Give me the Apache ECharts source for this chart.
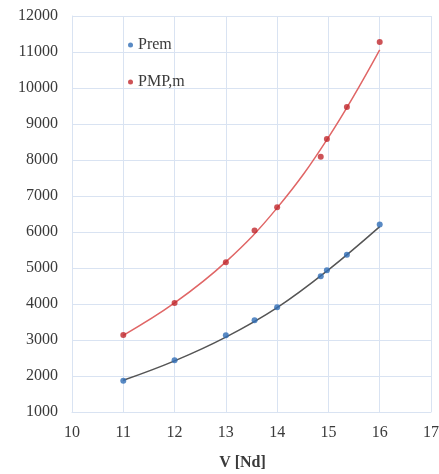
<!DOCTYPE html>
<html>
<head>
<meta charset="utf-8">
<script src="https://cdn.jsdelivr.net/npm/echarts@6/dist/echarts.min.js"></script>
<style>
html,body{margin:0;padding:0;background:#fff;}
#chart{width:439px;height:474px;}
</style>
</head>
<body>
<div id="chart"></div>
<script>
// Measured points
const vValues = [11, 12, 13, 13.56, 14, 14.85, 14.97, 15.36, 16];
const premValues = [1870, 2440, 3130, 3550, 3910, 4770, 4940, 5370, 6210];
const pmpValues = [3140, 4030, 5160, 6040, 6690, 8090, 8580, 9470, 11280];
// Trendlines
const trendV = [11, 12, 13, 14, 15, 16];
const premTrend = [1880, 2420, 3080, 3900, 4950, 6150];
const pmpTrend = [3130, 4030, 5170, 6670, 8630, 11060];
// Axis ticks
const xMin = 10, xMax = 17, xStep = 1;
const yMin = 1000, yMax = 12000, yStep = 1000;

const pair = (xs, ys) => xs.map((x, i) => [x, ys[i]]);

const textColor = '#3a3a3a';
const gridColor = '#d9e3f2';
const font = 'Liberation Serif, Times New Roman, serif';

const chart = echarts.init(document.getElementById('chart'), null, {renderer: 'canvas'});
chart.setOption({
  animation: false,
  backgroundColor: '#fff',
  grid: {left: 72, right: 8, top: 16, bottom: 62, containLabel: false, outerBoundsMode: 'none'},
  legend: {
    orient: 'vertical',
    left: 123,
    top: 31,
    itemGap: 19,
    itemWidth: 5,
    itemHeight: 5,
    icon: 'circle',
    data: ['Prem', 'PMP,m'],
    textStyle: {fontFamily: font, fontSize: 16, color: textColor, lineHeight: 18}
  },
  xAxis: {
    type: 'value',
    min: xMin, max: xMax, interval: xStep,
    name: 'V [Nd]',
    nameLocation: 'middle',
    nameGap: 43,
    nameTextStyle: {fontFamily: font, fontSize: 16, fontWeight: 'bold', color: textColor, padding: [0, 18, 0, 0]},
    axisLine: {show: true, lineStyle: {color: gridColor}},
    axisTick: {show: false},
    axisLabel: {fontFamily: font, fontSize: 16, color: textColor, margin: 13},
    splitLine: {show: true, lineStyle: {color: gridColor, width: 1}}
  },
  yAxis: {
    type: 'value',
    min: yMin, max: yMax, interval: yStep,
    axisLine: {show: true, lineStyle: {color: gridColor}},
    axisTick: {show: false},
    axisLabel: {fontFamily: font, fontSize: 16, color: textColor, margin: 14, formatter: v => String(v)},
    splitLine: {show: true, lineStyle: {color: gridColor, width: 1}}
  },
  series: [
    {
      name: 'PMP,m trend', type: 'line', data: pair(trendV, pmpTrend),
      smooth: 0.4, showSymbol: false, silent: true,
      lineStyle: {color: '#e06666', width: 1.5}, itemStyle: {color: '#e06666'}, z: 2
    },
    {
      name: 'Prem trend', type: 'line', data: pair(trendV, premTrend),
      smooth: 0.4, showSymbol: false, silent: true,
      lineStyle: {color: '#555555', width: 1.5}, itemStyle: {color: '#555555'}, z: 2
    },
    {
      name: 'Prem', type: 'scatter', data: pair(vValues, premValues),
      symbolSize: 6, itemStyle: {color: '#2f6db5'}, z: 3
    },
    {
      name: 'PMP,m', type: 'scatter', data: pair(vValues, pmpValues),
      symbolSize: 6, itemStyle: {color: '#c0282d'}, z: 3
    }
  ]
});
</script>
</body>
</html>
